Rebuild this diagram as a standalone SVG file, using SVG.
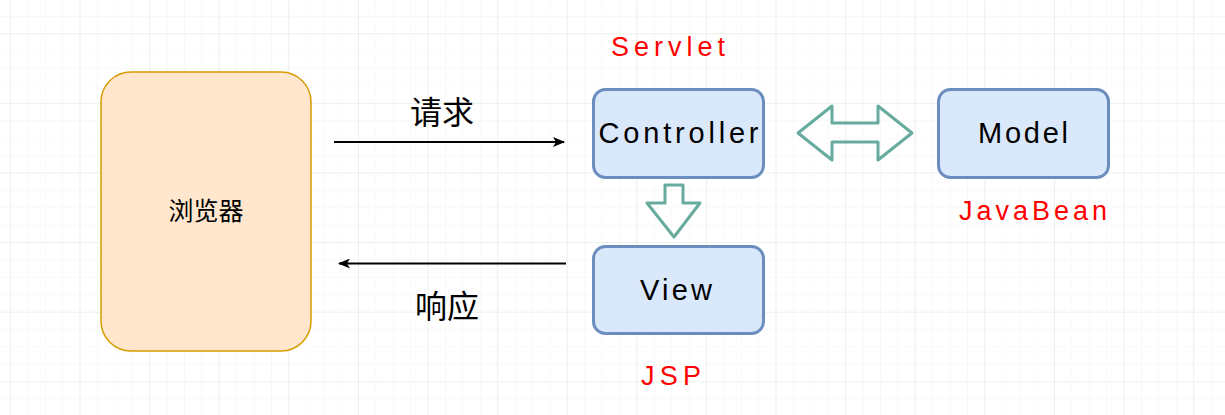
<svg xmlns="http://www.w3.org/2000/svg" width="1225" height="415" viewBox="0 0 1225 415">
<defs>
<pattern id="minor" x="10" y="33.3" width="17.4" height="17.4" patternUnits="userSpaceOnUse">
<path d="M0 0V17.4M0 0H17.4" fill="none" stroke="#eff3ef" stroke-width="1"/>
</pattern>
<pattern id="major" x="10" y="33.3" width="69.6" height="69.6" patternUnits="userSpaceOnUse">
<path d="M0 0V69.6M0 0H69.6" fill="none" stroke="#e0ebe0" stroke-width="1"/>
</pattern>
<marker id="ah" viewBox="0 0 12 10" refX="11" refY="5" markerWidth="12" markerHeight="10" markerUnits="userSpaceOnUse" orient="auto">
<path d="M0 0L12 5L0 10L3 5Z" fill="#000"/>
</marker>
</defs>
<style>
.box{fill:#dae8fc;stroke:#6c8ebf;stroke-width:3}
.lbl{font-family:"Liberation Sans",Arial,sans-serif;font-size:29px;fill:#000;text-anchor:middle}
.red{font-family:"Liberation Sans",Arial,sans-serif;font-size:27px;fill:#ff0000;text-anchor:middle}
.cn{font-family:"Noto Sans CJK SC",sans-serif;fill:#000;text-anchor:middle}
.hollow{fill:none;stroke:#67ab9f;stroke-width:3;stroke-linejoin:round}
.line{stroke:#000;stroke-width:2;fill:none}
</style>
<rect width="1225" height="415" fill="#ffffff"/>
<rect width="1225" height="415" fill="url(#minor)"/>
<rect width="1225" height="415" fill="url(#major)"/>

<g id="browser">
<rect x="101" y="72" width="210" height="279" rx="30" ry="30" fill="#ffe6cc" stroke="#d79b00" stroke-width="1.5"/>
<text class="cn" x="206" y="220" font-size="25">浏览器</text>
</g>

<g id="controller">
<rect class="box" x="593.5" y="89.5" width="170" height="88" rx="12" ry="12"/>
<text class="lbl" x="678.5" y="143" textLength="160" lengthAdjust="spacing">Controller</text>
</g>

<g id="model">
<rect class="box" x="938.5" y="89.5" width="170" height="88" rx="12" ry="12"/>
<text class="lbl" x="1023" y="143" textLength="90" lengthAdjust="spacing">Model</text>
</g>

<g id="view">
<rect class="box" x="593.5" y="246.5" width="170" height="87" rx="12" ry="12"/>
<text class="lbl" x="676" y="300" textLength="72" lengthAdjust="spacing">View</text>
</g>

<g id="labels">
<text class="red" x="668" y="56" textLength="114" lengthAdjust="spacing">Servlet</text>
<text class="red" x="1033" y="220" textLength="148" lengthAdjust="spacing">JavaBean</text>
<text class="red" x="671" y="385" textLength="60" lengthAdjust="spacing">JSP</text>
<text class="cn" x="442" y="124" font-size="32">请求</text>
<text class="cn" x="447" y="318" font-size="32">响应</text>
</g>

<g id="connectors">
<line class="line" x1="334" y1="142" x2="564" y2="142" marker-end="url(#ah)"/>
<line class="line" x1="566" y1="263.5" x2="339" y2="263.5" marker-end="url(#ah)"/>
<path class="hollow" d="M798 133L832 106L832 123L878 123L878 106L912 133L878 160L878 142L832 142L832 160Z"/>
<path class="hollow" d="M665 185L683 185L683 203L700 203L674 237L647 203L665 203Z"/>
</g>
</svg>
